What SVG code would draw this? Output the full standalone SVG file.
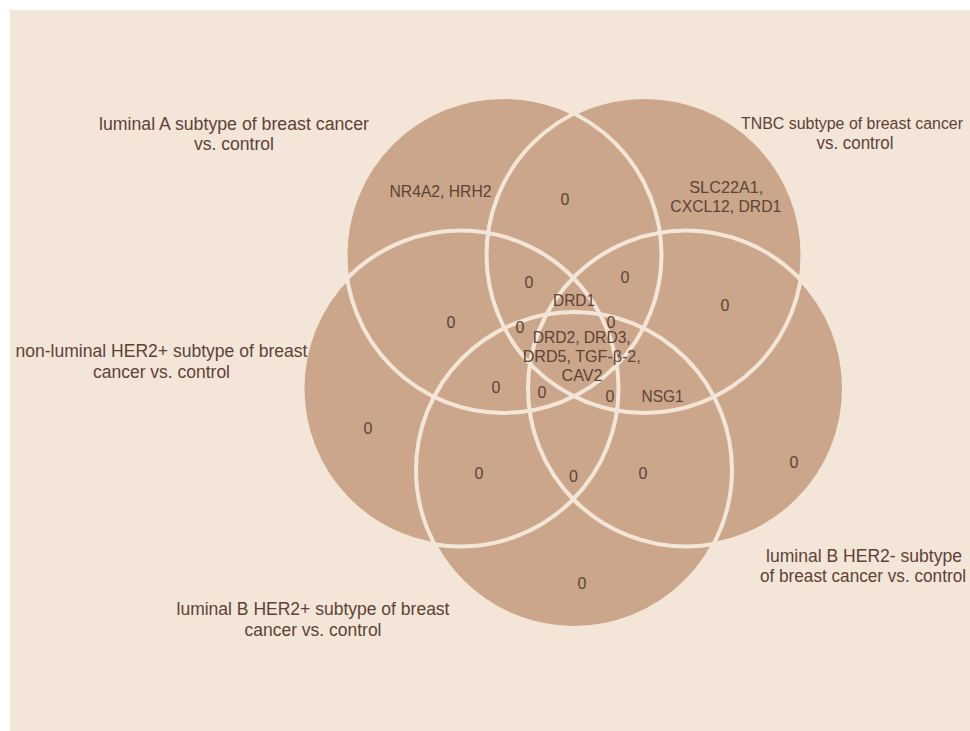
<svg xmlns="http://www.w3.org/2000/svg" width="970" height="731" viewBox="0 0 970 731">
  <defs>
    <style>
      .bg { fill: #f3e6d8; }
      .set { fill: #cba68a; }
      .outline { fill: none; stroke: #f3e6d8; stroke-width: 4; }
      text { font-family: "Liberation Sans", Arial, sans-serif; fill: #5e4236; text-anchor: middle; }
      .lab { font-size: 17.5px; }
      .val { font-size: 16px; }
    </style>
  </defs>
  <rect x="0" y="0" width="970" height="731" fill="#ffffff"/>
  <rect class="bg" x="10" y="10" width="960" height="721"/>

  <g id="set-luminalA">
    <circle class="set" cx="503.5" cy="254.9" r="158"/>
  </g>
  <g id="set-TNBC">
    <circle class="set" cx="644.5" cy="254.9" r="158"/>
  </g>
  <g id="set-nonluminalHER2">
    <circle class="set" cx="460.5" cy="388.5" r="158"/>
  </g>
  <g id="set-luminalB-HER2pos">
    <circle class="set" cx="574" cy="470" r="158"/>
  </g>
  <g id="set-luminalB-HER2neg">
    <circle class="set" cx="686" cy="388.5" r="158"/>
  </g>

  <g id="outlines">
    <circle class="outline" cx="503.5" cy="254.9" r="158"/>
    <circle class="outline" cx="644.5" cy="254.9" r="158"/>
    <circle class="outline" cx="460.5" cy="388.5" r="158"/>
    <circle class="outline" cx="574" cy="470" r="158"/>
    <circle class="outline" cx="686" cy="388.5" r="158"/>
  </g>

  <g id="set-labels">
    <text class="lab" x="234" y="130" textLength="270" lengthAdjust="spacingAndGlyphs">luminal A subtype of breast cancer</text>
    <text class="lab" x="234" y="150" textLength="80" lengthAdjust="spacingAndGlyphs">vs. control</text>
    <text class="lab" x="852" y="128.5" style="font-size:16.3px" textLength="222" lengthAdjust="spacingAndGlyphs">TNBC subtype of breast cancer</text>
    <text class="lab" x="855" y="148.5" textLength="77" lengthAdjust="spacingAndGlyphs">vs. control</text>
    <text class="lab" x="161.5" y="357" textLength="292" lengthAdjust="spacingAndGlyphs">non-luminal HER2+ subtype of breast</text>
    <text class="lab" x="161.5" y="378" textLength="137" lengthAdjust="spacingAndGlyphs">cancer vs. control</text>
    <text class="lab" x="313" y="615" textLength="273" lengthAdjust="spacingAndGlyphs">luminal B HER2+ subtype of breast</text>
    <text class="lab" x="313" y="636" textLength="137" lengthAdjust="spacingAndGlyphs">cancer vs. control</text>
    <text class="lab" x="864" y="561.7" textLength="196" lengthAdjust="spacingAndGlyphs">luminal B HER2- subtype</text>
    <text class="lab" x="863" y="581.7" textLength="206" lengthAdjust="spacingAndGlyphs">of breast cancer vs. control</text>
  </g>

  <g id="region-values">
    <text class="val" x="440.5" y="196.7" textLength="102" lengthAdjust="spacingAndGlyphs">NR4A2, HRH2</text>
    <text class="val" x="726.3" y="193.3" textLength="74" lengthAdjust="spacingAndGlyphs">SLC22A1,</text>
    <text class="val" x="725.8" y="211.7" textLength="111" lengthAdjust="spacingAndGlyphs">CXCL12, DRD1</text>
    <text class="val" x="574" y="306" textLength="42" lengthAdjust="spacingAndGlyphs">DRD1</text>
    <text class="val" x="581.7" y="343.3" textLength="98" lengthAdjust="spacingAndGlyphs">DRD2, DRD3,</text>
    <text class="val" x="581.7" y="361.7" textLength="118" lengthAdjust="spacingAndGlyphs">DRD5, TGF-β-2,</text>
    <text class="val" x="582" y="380.7" textLength="41" lengthAdjust="spacingAndGlyphs">CAV2</text>
    <text class="val" x="662.5" y="401.7" textLength="42" lengthAdjust="spacingAndGlyphs">NSG1</text>
    <text class="val" x="565" y="204.5">0</text>
    <text class="val" x="529" y="288">0</text>
    <text class="val" x="625" y="283">0</text>
    <text class="val" x="451" y="328">0</text>
    <text class="val" x="520" y="333">0</text>
    <text class="val" x="611" y="328">0</text>
    <text class="val" x="496" y="393">0</text>
    <text class="val" x="542" y="398">0</text>
    <text class="val" x="610" y="402">0</text>
    <text class="val" x="725" y="311">0</text>
    <text class="val" x="368" y="434">0</text>
    <text class="val" x="479" y="479">0</text>
    <text class="val" x="573.5" y="482">0</text>
    <text class="val" x="643" y="479">0</text>
    <text class="val" x="794" y="468">0</text>
    <text class="val" x="582" y="589">0</text>
  </g>
</svg>
